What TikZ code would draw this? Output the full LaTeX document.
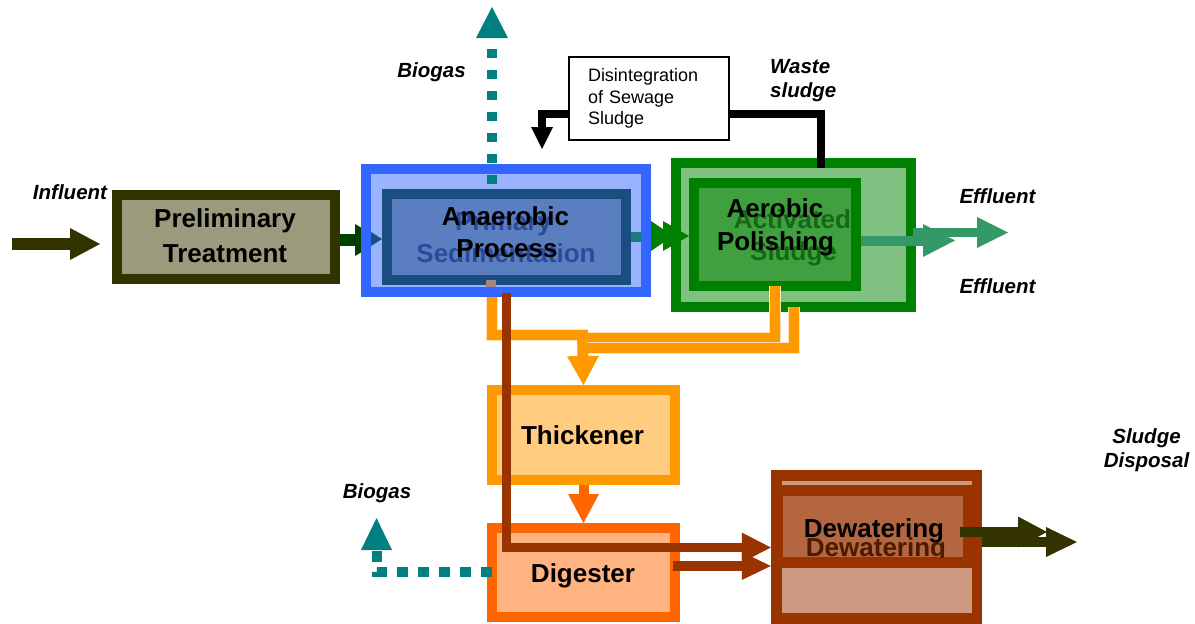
\documentclass[tikz,border=0pt]{standalone}
\usepackage{fontspec}
\setmainfont{Liberation Sans}
\usetikzlibrary{arrows.meta,calc}
\definecolor{cOl}{HTML}{333300}
\definecolor{cPrel}{HTML}{9A9A7C}
\definecolor{cDkGr}{HTML}{003F00}
\definecolor{cBlue}{HTML}{3366FF}
\definecolor{cLtBlue}{HTML}{99B3FF}
\definecolor{cDkBlue}{HTML}{1A4D80}
\definecolor{cAnFill}{HTML}{5A7EC0}
\definecolor{cGhB}{HTML}{2A4B9B}
\definecolor{cGreen}{HTML}{008000}
\definecolor{cLtGreen}{HTML}{80C080}
\definecolor{cAerFill}{HTML}{40A040}
\definecolor{cGhG}{HTML}{156815}
\definecolor{cTeal}{HTML}{008080}
\definecolor{cTealBar}{HTML}{1F7A80}
\definecolor{cEff}{HTML}{339966}
\definecolor{cOr}{HTML}{FF9900}
\definecolor{cOrEdge}{HTML}{FFE2B8}
\definecolor{cThFill}{HTML}{FFCC80}
\definecolor{cOrRed}{HTML}{FF6600}
\definecolor{cDigFill}{HTML}{FFB380}
\definecolor{cBrown}{HTML}{993300}
\definecolor{cDwUp}{HTML}{B36640}
\definecolor{cDwLo}{HTML}{CC9980}
\definecolor{cGhBr}{HTML}{4D1A00}
\definecolor{cMauve}{HTML}{A48684}
\begin{document}
\begin{tikzpicture}[x=1pt,y=-1pt,
  box/.style={draw,line width=10pt,inner sep=0pt},
  mt/.style={font=\fontsize{26}{30}\selectfont\bfseries,inner sep=0pt,anchor=base},
  lb/.style={font=\fontsize{20.5}{24}\selectfont\bfseries\itshape,inner sep=0pt,anchor=base},
  hd/.style 2 args={-{Triangle[width=#1pt,length=#2pt,line width=0pt]}}]
\useasboundingbox (0,0) rectangle (1195,624);

% ---------- influent ----------
\coordinate (inS) at (12,244);
\coordinate (inE) at (100,244);
\draw[cOl,line width=12pt,hd={32}{30}] (inS) -- (inE);
\node[lb] (lInf) at (70,199) {Influent};

% ---------- preliminary treatment ----------
\node[box,draw=cOl,fill=cPrel,minimum width=218pt,minimum height=84pt] (prelim) at (226,237) {};
\node[mt] (tPre1) at (225,227) {Preliminary};
\node[mt] (tPre2) at (225,262) {Treatment};

% arrow prelim -> primary (partly hidden)
\coordinate (gp) at (382,240);
\draw[cDkGr,line width=12pt,hd={32}{27}] (prelim.east |- gp) -- (gp);

% ---------- primary sedimentation / anaerobic ----------
\node[box,draw=cBlue,fill=cLtBlue,minimum width=280pt,minimum height=123pt] (prim) at (506,230.5) {};

\coordinate (bgT) at (492,7);
\coordinate (bgS) at (492,184);
\draw[cTeal,line width=10pt,dash pattern=on 9pt off 12pt,hd={32}{31}] (bgS) -- (bgT);
\node[lb] (lBio1) at (431.5,77) {Biogas};

\node[box,draw=cDkBlue,fill=cAnFill,minimum width=239pt,minimum height=86pt] (anaer) at (506.5,237) {};
\coordinate (pa) at (371,239);
\draw[cDkBlue,line width=1pt,hd={14}{11}] (pa) -- (pa -| anaer.west);
\draw[cTealBar,line width=10pt] (anaer.east) -- ($(prim.east)+(-10,6.5)$);
\fill[cMauve] (486,280) rectangle (496,287);

\node[mt,text=cGhB] (tPri1) at (503.5,230) {Primary};
\node[mt,text=cGhB] (tPri2) at (506,262) {Sedimentation};
\node[mt] (tAn1) at (505.5,225) {Anaerobic};
\node[mt] (tAn2) at (507,257) {Process};

% ---------- activated sludge / aerobic ----------
\node[box,draw=cGreen,fill=cLtGreen,minimum width=235pt,minimum height=144pt] (act) at (793.5,235) {};
\node[box,draw=cGreen,fill=cAerFill,minimum width=162pt,minimum height=103pt] (aer) at (775,234.5) {};
\node[mt,text=cGhG] (tAc1) at (792.5,228) {Activated};
\node[mt,text=cGhG] (tAc2) at (793.5,260) {Sludge};
\node[mt] (tAe1) at (775,217) {Aerobic};
\node[mt] (tAe2) at (775.5,250) {Polishing};

% green arrows primary -> activated
\coordinate (gA) at (651,236);
\draw[cGreen,line width=14pt,hd={30}{22}] (gA) -- (673,236);
\draw[cGreen,line width=14pt,hd={30}{26}] (gA) -- (gA -| aer.west);

% effluent arrows
\coordinate (eA) at (955,240.5);
\draw[cEff,line width=10pt,hd={33}{32}] (eA -| aer.east) -- (eA);
\coordinate (eB1) at (913,232.5);
\coordinate (eB2) at (1008,232.5);
\draw[cEff,line width=9pt,hd={31}{31}] (eB1) -- (eB2);
\node[lb] (lEff1) at (997.5,203) {Effluent};
\node[lb] (lEff2) at (997.5,293) {Effluent};

% ---------- disintegration loop ----------
\node[draw=black,line width=2pt,fill=white,minimum width=160pt,minimum height=83pt,
      text width=122pt,inner xsep=19pt,align=left,
      font=\fontsize{18}{21.5}\selectfont] (dis) at (649,98.5)
      {Disintegration\\of Sewage\\Sludge};
\coordinate (wS) at (821,168);
\coordinate (wY) at (0,113.5);
\coordinate (wT) at (542,149);
\draw[black,line width=8pt] (wS) |- (dis.east |- wY);
\draw[black,line width=8pt,hd={22}{22}] (dis.west |- wY) -| (wT);
\node[lb,anchor=base west] (lW1) at (770,73) {Waste};
\node[lb,anchor=base west] (lW2) at (770,97) {sludge};

% ---------- thickener & digester ----------
\node[box,draw=cOr,fill=cThFill,minimum width=183pt,minimum height=90pt] (thick) at (583.5,435) {};
\node[mt] (tTh) at (582.5,444) {Thickener};
\node[box,draw=cOrRed,fill=cDigFill,minimum width=183pt,minimum height=89pt] (dig) at (583.5,572.5) {};
\node[mt] (tDi) at (583,582) {Digester};

\draw[cOrRed,line width=10pt,hd={31}{29}] (thick.south) -- (dig.north);

% orange sludge lines
\coordinate (o1) at (491.5,297);
\coordinate (o2) at (775,286);
\coordinate (o3) at (793.5,307);
\coordinate (oJ1) at (588,335);
\coordinate (oJ2) at (583,338);
\coordinate (oJ3) at (583,348);
\coordinate (oJ) at (582.5,330);
\draw[cOrEdge,line width=12pt] (o1) |- (oJ1);
\draw[cOr,line width=10pt] (o1) |- (oJ1);
\draw[cOrEdge,line width=12pt] (o2) |- (oJ2);
\draw[cOr,line width=10pt] (o2) |- (oJ2);
\draw[cOrEdge,line width=12pt] (o3) |- (oJ3);
\draw[cOr,line width=10pt] (o3) |- (oJ3);
\draw[cOr,line width=11pt,hd={32}{29}] (oJ) -- (thick.north);

% digester biogas
\coordinate (g1) at (492,572);
\coordinate (g2) at (376.5,518);
\draw[cTeal,line width=10pt,dash pattern=on 11pt off 10pt,hd={31}{32}] (g1) -| (g2);
\node[lb] (lBio2) at (377,498) {Biogas};

% ---------- dewatering ----------
\node[fill=cBrown,inner sep=0pt,minimum width=211pt,minimum height=154pt] (dew) at (876.5,547) {};
\fill[cDwLo] (782,481) rectangle (972,485);
\fill[cDwUp] (783,496) rectangle (963,557);
\fill[cDwLo] (782,568) rectangle (972,613);
\begin{scope}
  \clip (783,496) rectangle (963,557);
  \node[mt,text=cGhBr] (tDw2) at (876,556) {Dewatering};
\end{scope}
\node[mt] (tDw1) at (874,537) {Dewatering};

% brown lines
\coordinate (b1) at (506.5,293);
\coordinate (bY) at (0,547.5);
\draw[cBrown,line width=9.5pt,hd={30}{29}] (b1) |- (dew.west |- bY);
\coordinate (b3) at (673,566);
\draw[cBrown,line width=10pt,hd={28}{29}] (b3) -- (b3 -| dew.west);

% sludge disposal arrows
\coordinate (d1) at (960,532);
\coordinate (d2) at (1047,532);
\draw[cOl,line width=10pt,hd={31}{29}] (d1) -- (d2);
\coordinate (d3) at (1077,542);
\draw[cOl,line width=10pt,hd={30}{31}] (dew.east |- d3) -- (d3);
\node[lb] (lSD1) at (1146.5,443) {Sludge};
\node[lb] (lSD2) at (1146.5,467) {Disposal};
\end{tikzpicture}
\end{document}
